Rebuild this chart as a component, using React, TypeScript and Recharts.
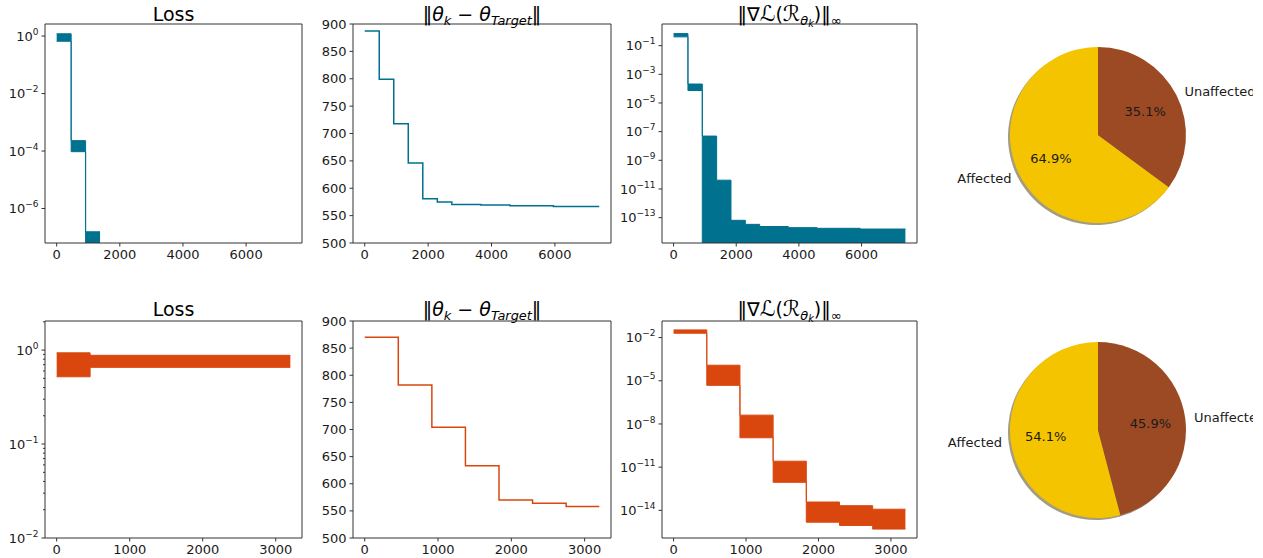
import React from 'react';
import { ComposedChart, Area, Line, XAxis, YAxis, ReferenceLine, PieChart, Pie, Cell } from 'recharts';

const FONT = '"DejaVu Sans", Verdana, sans-serif';
const TEAL = '#00718f';
const ORANGE = '#d9470f';
const YELLOW = '#f5c400';
const BROWN = '#9b4a23';
const AXIS = '#333';
const TXT = '#1a1a1a';

// iteration where each stage starts
const topSteps = [0, 458, 916, 1374, 1832, 2290, 2748, 3664, 4580, 5954];
const topEnd = 7400;
const bottomSteps = [0, 458, 916, 1374, 1832, 2290, 2748];
const bottomEnd = 3200;
const lossBottomSteps = [0, 458];

// run 1 (teal)
const lossTopHigh = [1.2, 2.3e-4, 1.55e-7];
const lossTopLow = [0.66, 9.5e-5, 1e-9];
const thetaTop = [887, 799, 718, 646, 581, 575, 570.5, 569.5, 568, 566.5];
const gradTopHigh = [0.69, 2.1e-4, 4.9e-8, 4.1e-11, 6.5e-14, 3.4e-14, 2.4e-14, 2e-14, 1.8e-14, 1.6e-14];
const gradTopLow = [0.41, 7.4e-5, 1e-17, 1e-17, 1e-17, 1e-17, 1e-17, 1e-17, 1e-17, 1e-17];

// run 2 (orange)
const lossBottomHigh = [0.935, 0.88];
const lossBottomLow = [0.52, 0.655];
const thetaBottom = [870, 782, 704, 633, 570, 564, 558];
const gradBottomHigh = [0.034, 1.2e-4, 4.1e-8, 2.6e-11, 3.8e-14, 2.1e-14, 1.2e-14];
const gradBottomLow = [0.02, 4.8e-6, 1.1e-9, 8.9e-13, 1.5e-15, 8.9e-16, 5e-16];

// pies
const pieTop = [
  { name: 'Affected', value: 64.9 },
  { name: 'Unaffected', value: 35.1 },
];
const pieBottom = [
  { name: 'Affected', value: 54.1 },
  { name: 'Unaffected', value: 45.9 },
];

// axes
const xTicksTop = [0, 2000, 4000, 6000];
const xTicksBottom = [0, 1000, 2000, 3000];
const xDomTop = [-370, 7770];
const xDomBottom = [-160, 3360];
const thetaTicks = [500, 550, 600, 650, 700, 750, 800, 850, 900];
const lossTopTicks = [1, 1e-2, 1e-4, 1e-6];
const gradTopTicks = [1e-1, 1e-3, 1e-5, 1e-7, 1e-9, 1e-11, 1e-13];
const gradBottomTicks = [1e-2, 1e-5, 1e-8, 1e-11, 1e-14];
const lossBottomTicks = [
  0.01, 0.02, 0.03, 0.04, 0.05, 0.06, 0.07, 0.08, 0.09,
  0.1, 0.2, 0.3, 0.4, 0.5, 0.6, 0.7, 0.8, 0.9, 1, 2,
];

function bands(edges: number[], end: number, low: number[], high: number[]) {
  const rows: any[] = [];
  low.forEach((lo, i) => {
    const x2 = i + 1 < edges.length ? edges[i + 1] : end;
    rows.push({ x: edges[i], band: [lo, high[i]] }, { x: x2, band: [lo, high[i]] });
  });
  return rows;
}

function steps(edges: number[], end: number, vals: number[]) {
  const rows = vals.map((v, i) => ({ x: edges[i], v }));
  rows.push({ x: end, v: vals[vals.length - 1] });
  return rows;
}

const TS = 3.5;
const TM = 3;

const makeLogTick = (labeled: number[]) => (props: any) => {
  const { x, y, payload } = props;
  const v = payload.value;
  const ax = x + TS + TM;
  const e = Math.log10(v);
  const r = Math.round(e);
  const major = Math.abs(e - r) < 1e-6 && labeled.includes(r);
  return (
    <g>
      <line x1={ax - (major ? TS : 2)} x2={ax} y1={y} y2={y} stroke={AXIS} strokeWidth={1} />
      {major && (
        <text x={ax - TS - TM} y={y} dy={4.7} textAnchor="end" fontSize={13} fill={TXT}>
          10
          <tspan dy={-6} fontSize={9}>{r < 0 ? '\u2212' + -r : String(r)}</tspan>
        </text>
      )}
    </g>
  );
};

const YW = 60;
const XH = 30;
const MT = 12;
const MR = 4;

function Panel(p: any) {
  return (
    <div style={{ position: 'absolute', left: p.x - YW, top: p.y - MT }}>
      <ComposedChart
        width={p.w + YW + MR}
        height={p.h + MT + XH}
        data={p.data}
        margin={{ top: MT, right: MR, left: 0, bottom: 0 }}
      >
        <XAxis
          dataKey="x"
          type="number"
          domain={p.xDomain}
          ticks={p.xTicks}
          interval={0}
          height={XH}
          tickSize={TS}
          tickMargin={TM}
          stroke={AXIS}
          tick={{ fontSize: 13, fill: TXT }}
          allowDataOverflow
        />
        <YAxis
          type="number"
          scale={p.log ? 'log' : 'linear'}
          domain={p.yDomain}
          ticks={p.yTicks}
          interval={0}
          width={YW}
          tickSize={TS}
          tickMargin={TM}
          stroke={AXIS}
          tickLine={!p.log}
          tick={p.log ? makeLogTick(p.labeled) : { fontSize: 13, fill: TXT }}
          allowDataOverflow
        />
        <ReferenceLine x={p.xDomain[1]} stroke={AXIS} strokeWidth={1} />
        <ReferenceLine y={p.yDomain[1]} stroke={AXIS} strokeWidth={1} />
        {p.band ? (
          <Area
            dataKey="band"
            type="linear"
            stroke={p.color}
            strokeWidth={1}
            fill={p.color}
            fillOpacity={1}
            dot={false}
            activeDot={false}
            isAnimationActive={false}
          />
        ) : (
          <Line
            dataKey="v"
            type="stepAfter"
            stroke={p.color}
            strokeWidth={1.5}
            dot={false}
            activeDot={false}
            isAnimationActive={false}
          />
        )}
      </ComposedChart>
    </div>
  );
}

const RAD = Math.PI / 180;

function pieLabel(p: any) {
  const { cx, cy, midAngle, outerRadius, percent, name } = p;
  const c = Math.cos(-midAngle * RAD);
  const s = Math.sin(-midAngle * RAD);
  return (
    <g>
      <text
        x={cx + outerRadius * 1.1 * c}
        y={cy + outerRadius * 1.1 * s}
        textAnchor={c < 0 ? 'end' : 'start'}
        dominantBaseline="central"
        fontSize={13}
        fill={TXT}
      >
        {name}
      </text>
      <text
        x={cx + outerRadius * 0.6 * c}
        y={cy + outerRadius * 0.6 * s}
        textAnchor="middle"
        dominantBaseline="central"
        fontSize={13}
        fill={TXT}
      >
        {(percent * 100).toFixed(1)}%
      </text>
    </g>
  );
}

function PieBlock({ top, cy, data }: any) {
  return (
    <div style={{ position: 'absolute', left: 930, top }}>
      <PieChart width={323} height={268} margin={{ top: 0, right: 0, bottom: 0, left: 0 }}>
        <Pie data={data} dataKey="value" cx={166} cy={cy + 2} outerRadius={88} startAngle={90} endAngle={450} stroke="none" isAnimationActive={false}>
          <Cell fill="#a49d80" />
          <Cell fill="#978a85" />
        </Pie>
        <Pie
          data={data}
          dataKey="value"
          cx={168}
          cy={cy}
          outerRadius={88}
          startAngle={90}
          endAngle={450}
          stroke="none"
          label={pieLabel}
          labelLine={false}
          isAnimationActive={false}
        >
          <Cell fill={YELLOW} />
          <Cell fill={BROWN} />
        </Pie>
      </PieChart>
    </div>
  );
}

const sub: React.CSSProperties = { fontSize: '0.68em', position: 'relative', top: '0.3em' };
const subsub: React.CSSProperties = { fontSize: '0.75em', position: 'relative', top: '0.25em' };
const cal: React.CSSProperties = { fontSize: '1.15em' };

function Title({ x, w, top, children }: any) {
  return (
    <div
      style={{
        position: 'absolute',
        left: x,
        top,
        width: w,
        height: 24,
        lineHeight: '24px',
        fontSize: 19,
        textAlign: 'center',
        color: '#000',
        whiteSpace: 'nowrap',
      }}
    >
      {children}
    </div>
  );
}

const ThetaTitle = () => (
  <>
    ‖<i>θ</i>
    <span style={sub}>
      <i>k</i>
    </span>
    {' \u2212 '}
    <i>θ</i>
    <span style={sub}>
      <i>Target</i>
    </span>
    ‖
  </>
);

const GradTitle = () => (
  <>
    ‖∇<span style={cal}>ℒ</span>(<span style={cal}>ℛ</span>
    <span style={sub}>
      <i>θ</i>
      <span style={subsub}>
        <i>k</i>
      </span>
    </span>
    )‖<span style={sub}>∞</span>
  </>
);

const C1 = { x: 45, w: 257 };
const C2 = { x: 353, w: 258 };
const C3 = { x: 662, w: 255 };
const R1 = { y: 24, h: 219 };
const R2 = { y: 321, h: 217 };

export default function App() {
  return (
    <div
      style={{
        position: 'absolute',
        left: 0,
        top: 0,
        width: 1253,
        height: 558,
        overflow: 'hidden',
        background: '#fff',
        fontFamily: FONT,
      }}
    >
      <Panel {...C1} {...R1} band color={TEAL} data={bands(topSteps, topEnd, lossTopLow, lossTopHigh)}
        xDomain={xDomTop} xTicks={xTicksTop} log yDomain={[Math.pow(10, -7.2), Math.pow(10, 0.42)]}
        yTicks={lossTopTicks} labeled={[0, -2, -4, -6]} />
      <Panel {...C2} {...R1} color={TEAL} data={steps(topSteps, topEnd, thetaTop)}
        xDomain={xDomTop} xTicks={xTicksTop} yDomain={[500, 900]} yTicks={thetaTicks} />
      <Panel {...C3} {...R1} band color={TEAL} data={bands(topSteps, topEnd, gradTopLow, gradTopHigh)}
        xDomain={xDomTop} xTicks={xTicksTop} log yDomain={[Math.pow(10, -14.77), Math.pow(10, 0.51)]}
        yTicks={gradTopTicks} labeled={[-1, -3, -5, -7, -9, -11, -13]} />

      <Panel {...C1} {...R2} band color={ORANGE} data={bands(lossBottomSteps, bottomEnd, lossBottomLow, lossBottomHigh)}
        xDomain={xDomBottom} xTicks={xTicksBottom} log yDomain={[0.01, 2.04]}
        yTicks={lossBottomTicks} labeled={[-2, -1, 0]} />
      <Panel {...C2} {...R2} color={ORANGE} data={steps(bottomSteps, bottomEnd, thetaBottom)}
        xDomain={xDomBottom} xTicks={xTicksBottom} yDomain={[500, 900]} yTicks={thetaTicks} />
      <Panel {...C3} {...R2} band color={ORANGE} data={bands(bottomSteps, bottomEnd, gradBottomLow, gradBottomHigh)}
        xDomain={xDomBottom} xTicks={xTicksBottom} log yDomain={[Math.pow(10, -15.92), Math.pow(10, -0.85)]}
        yTicks={gradBottomTicks} labeled={[-2, -5, -8, -11, -14]} />

      <PieBlock top={0} cy={135} data={pieTop} />
      <PieBlock top={290} cy={140} data={pieBottom} />

      <Title x={C1.x} w={C1.w} top={2}>Loss</Title>
      <Title x={C2.x} w={C2.w} top={2}><ThetaTitle /></Title>
      <Title x={C3.x} w={C3.w} top={2}><GradTitle /></Title>
      <Title x={C1.x} w={C1.w} top={297}>Loss</Title>
      <Title x={C2.x} w={C2.w} top={297}><ThetaTitle /></Title>
      <Title x={C3.x} w={C3.w} top={297}><GradTitle /></Title>
    </div>
  );
}
